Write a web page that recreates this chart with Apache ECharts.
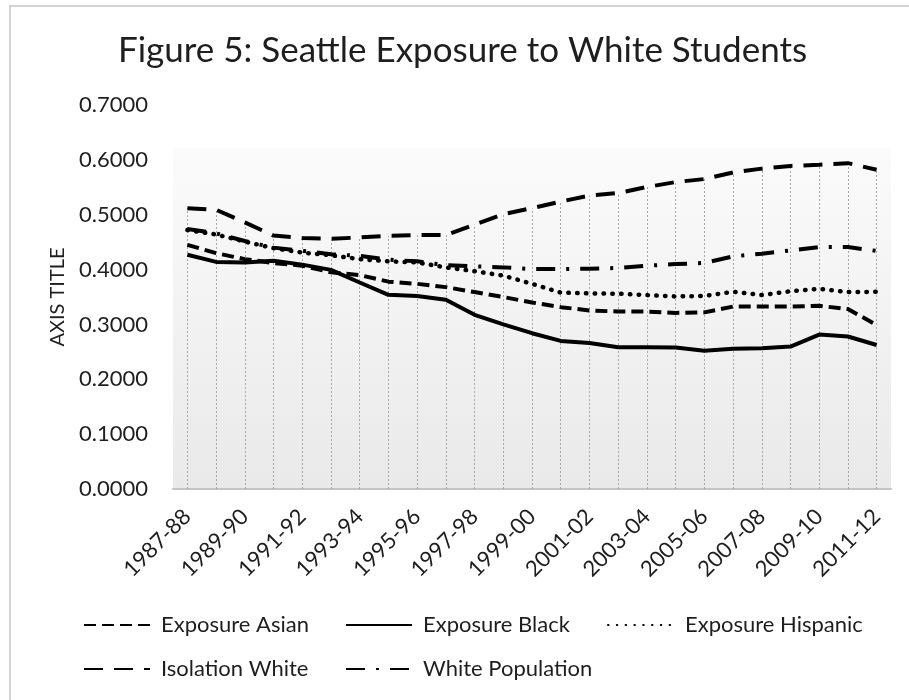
<!DOCTYPE html>
<html>
<head>
<meta charset="utf-8">
<script src="https://cdn.jsdelivr.net/npm/echarts@6/dist/echarts.min.js"></script>
<style>
  html, body { margin: 0; padding: 0; background: #fff; }
  #chart { width: 909px; height: 700px; }
</style>
</head>
<body>
<div id="chart"></div>
<script>
// School years
const years = [
  '1987-88', '1988-89', '1989-90', '1990-91', '1991-92', '1992-93', '1993-94',
  '1994-95', '1995-96', '1996-97', '1997-98', '1998-99', '1999-00', '2000-01',
  '2001-02', '2002-03', '2003-04', '2004-05', '2005-06', '2006-07', '2007-08',
  '2008-09', '2009-10', '2010-11', '2011-12'
];

// Exposure / isolation indices
const exposureAsian = [
  0.445, 0.430, 0.419, 0.412, 0.407, 0.395, 0.390, 0.378, 0.374, 0.368, 0.359, 0.350,
  0.340, 0.3315, 0.3255, 0.3235, 0.3235, 0.321, 0.322, 0.3325, 0.3325, 0.3325, 0.334, 0.328, 0.299
];
const exposureBlack = [
  0.427, 0.414, 0.413, 0.416, 0.409, 0.3995, 0.3765, 0.354, 0.352, 0.345, 0.3175, 0.300,
  0.284, 0.270, 0.266, 0.2585, 0.2585, 0.258, 0.252, 0.2555, 0.2567, 0.2597, 0.2815, 0.278, 0.2625
];
const exposureHispanic = [
  0.472, 0.464, 0.451, 0.439, 0.431, 0.426, 0.419, 0.415, 0.413, 0.404, 0.397, 0.389,
  0.374, 0.358, 0.3565, 0.356, 0.3535, 0.351, 0.352, 0.3595, 0.3535, 0.3605, 0.365, 0.359, 0.3595
];
const isolationWhite = [
  0.512, 0.509, 0.486, 0.462, 0.4575, 0.456, 0.4586, 0.4617, 0.463, 0.463, 0.482, 0.501,
  0.512, 0.524, 0.535, 0.5395, 0.5505, 0.5595, 0.565, 0.577, 0.584, 0.589, 0.591, 0.594, 0.582
];
const whitePopulation = [
  0.474, 0.466, 0.452, 0.440, 0.434, 0.428, 0.425, 0.418, 0.415, 0.408, 0.406, 0.404,
  0.401, 0.401, 0.4015, 0.403, 0.407, 0.410, 0.412, 0.424, 0.429, 0.435, 0.441, 0.441, 0.434
];

// Value axis ticks
const yMin = 0, yMax = 0.7, yStep = 0.1;

const FONT = 'Lato';
const TEXT = '#1e1e1e';

const allSeries = [exposureAsian, exposureBlack, exposureHispanic, isolationWhite, whitePopulation];
// drop lines run from the highest series down to the axis at each year
const topValues = years.map((_, i) => Math.max(...allSeries.map(s => s[i])));

function lineSeries(name, data, lineStyle) {
  return {
    name: name,
    type: 'line',
    data: data,
    symbol: 'none',
    z: 5,
    lineStyle: Object.assign({ color: '#000', width: 4 }, lineStyle),
    itemStyle: { color: '#000' }
  };
}

function legendItem(name, left, top) {
  return {
    data: [name],
    left: left,
    top: top,
    padding: 0,
    itemWidth: 66,
    itemHeight: 14,
    selectedMode: false,
    itemStyle: { opacity: 0 },
    textStyle: { fontFamily: FONT, fontSize: 22, color: TEXT, padding: [0, 0, 0, 6] }
  };
}

const chart = echarts.init(document.getElementById('chart'), null, { renderer: 'canvas' });

chart.setOption({
  animation: false,
  backgroundColor: '#fff',
  graphic: [{
    type: 'rect',
    silent: true,
    shape: { x: 10, y: 6, width: 1200, height: 1200 },
    style: { fill: 'none', stroke: '#d4d4d4', lineWidth: 2 }
  }],
  title: {
    text: 'Figure 5: Seattle Exposure to White Students',
    left: 118,
    top: 33,
    padding: 0,
    textStyle: { fontFamily: FONT, fontSize: 35, fontWeight: 'normal', color: TEXT }
  },
  legend: [
    legendItem('Exposure Asian', 83, 614),
    legendItem('Exposure Black', 345, 614),
    legendItem('Exposure Hispanic', 607, 614),
    legendItem('Isolation White', 83, 658),
    legendItem('White Population', 345, 658)
  ],
  grid: {
    left: 173,
    right: 18,
    top: 105,
    bottom: 211,
    show: true,
    borderWidth: 0,
    backgroundColor: {
      type: 'linear', x: 0, y: 0, x2: 0, y2: 1,
      colorStops: [
        { offset: 0, color: '#ffffff' },
        { offset: 0.11, color: '#ffffff' },
        { offset: 0.113, color: '#fbfbfb' },
        { offset: 1, color: '#e9e9e9' }
      ]
    }
  },
  xAxis: {
    type: 'category',
    data: years,
    boundaryGap: true,
    axisTick: { show: false },
    axisLine: { lineStyle: { color: '#c4c4c4', width: 2 } },
    axisLabel: {
      interval: 1,
      rotate: 45,
      margin: 24,
      fontFamily: FONT,
      fontSize: 22,
      color: TEXT
    },
    splitLine: { show: false }
  },
  yAxis: {
    type: 'value',
    min: yMin,
    max: yMax,
    interval: yStep,
    name: 'AXIS TITLE',
    nameLocation: 'middle',
    nameRotate: 90,
    nameGap: 105,
    nameTextStyle: { fontFamily: FONT, fontSize: 20, color: TEXT },
    axisLine: { show: false },
    axisTick: { show: false },
    splitLine: { show: false },
    axisLabel: {
      margin: 25,
      fontFamily: FONT,
      fontSize: 22,
      color: TEXT,
      formatter: v => v.toFixed(4)
    }
  },
  series: [
    {
      name: 'drop',
      type: 'line',
      data: topValues,
      symbol: 'none',
      silent: true,
      z: 1,
      lineStyle: { opacity: 0 },
      markLine: {
        silent: true,
        symbol: ['none', 'none'],
        label: { show: false },
        lineStyle: { color: '#a8a8a8', width: 1, type: [2, 2] },
        data: topValues.map((v, i) => [
          { coord: [i, yMin] },
          { coord: [i, v] }
        ])
      }
    },
    lineSeries('Exposure Asian', exposureAsian, { type: [12, 6] }),
    lineSeries('Exposure Black', exposureBlack, {}),
    lineSeries('Exposure Hispanic', exposureHispanic, { type: [0.5, 8.3], cap: 'round', width: 4.5 }),
    lineSeries('Isolation White', isolationWhite, { type: [19, 11] }),
    lineSeries('White Population', whitePopulation, { type: [19, 11, 3, 11] })
  ]
});
</script>
</body>
</html>
